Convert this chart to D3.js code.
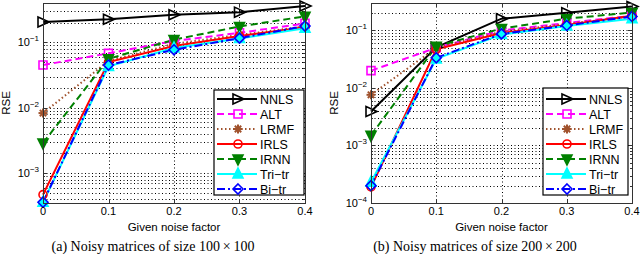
<!DOCTYPE html>
<html>
<head>
<meta charset="utf-8">
<script src="https://cdn.jsdelivr.net/npm/d3@7"></script>
<style>
  body { margin: 0; background: #fff; }
  svg { display: block; }
  .tick-label { font-family: "Liberation Sans", Arial, sans-serif; font-size: 11px; fill: #000; }
  .axis-title { font-family: "Liberation Sans", Arial, sans-serif; font-size: 11.5px; fill: #000; }
  .caption { font-family: "Liberation Serif", "DejaVu Serif", serif; font-size: 14px; fill: #000; }
  .legend-text { font-family: "Liberation Sans", Arial, sans-serif; font-size: 12.5px; fill: #000; }
</style>
</head>
<body>
<svg id="chart" width="640" height="254"></svg>
<script>
// data
let noise = [0, 0.1, 0.2, 0.3, 0.4];
let xTicks = [0, 0.1, 0.2, 0.3, 0.4];
let methods = ["NNLS", "ALT", "LRMF", "IRLS", "IRNN", "Tri\u2212tr", "Bi\u2212tr"];

// (a) 100x100
let nnlsA = [0.205, 0.225, 0.265, 0.29, 0.36];
let altA  = [0.045, 0.068, 0.105, 0.14, 0.195];
let lrmfA = [0.0083, 0.052, 0.095, 0.13, 0.175];
let irlsA = [0.00047, 0.05, 0.088, 0.125, 0.17];
let irnnA = [0.0029, 0.056, 0.11, 0.175, 0.25];
let triA  = [0.00036, 0.043, 0.082, 0.115, 0.165];
let biA   = [0.00036, 0.045, 0.077, 0.116, 0.178];
let yTicksA = [1e-3, 1e-2, 1e-1];

// (b) 200x200
let nnlsB = [0.0039, 0.051, 0.16, 0.203, 0.26];
let altB  = [0.02, 0.05, 0.1, 0.135, 0.18];
let lrmfB = [0.0076, 0.05, 0.095, 0.13, 0.175];
let irlsB = [0.00019, 0.047, 0.09, 0.125, 0.18];
let irnnB = [0.0015, 0.053, 0.108, 0.16, 0.205];
let triB  = [0.00023, 0.032, 0.085, 0.12, 0.16];
let biB   = [0.0002, 0.0335, 0.087, 0.122, 0.175];
let yTicksB = [1e-4, 1e-3, 1e-2, 1e-1];

let styles = [
  {color: "#000000", dash: null,    marker: "right"},
  {color: "#ff00ff", dash: "7,4",   marker: "square"},
  {color: "#a0522d", dash: "1.5,2.5", marker: "star"},
  {color: "#ff0000", dash: null,    marker: "circle"},
  {color: "#008000", dash: "7,4",   marker: "down"},
  {color: "#00ffff", dash: null,    marker: "up"},
  {color: "#0000ff", dash: "8,3,2,3", marker: "diamond"}
];

let svg = d3.select("#chart");

function drawMarker(g, type, x, y, color) {
  let s = 5;
  let pts;
  if (type == "right") pts = [[-s, -s], [s + 1, 0], [-s, s]];
  if (type == "up") pts = [[0, -s - 1], [s, s - 1], [-s, s - 1]];
  if (type == "down") pts = [[0, s + 1], [s, -s + 1], [-s, -s + 1]];
  if (type == "diamond") pts = [[0, -s], [s, 0], [0, s], [-s, 0]];
  if (type == "square") pts = [[-4, -4], [4, -4], [4, 4], [-4, 4]];
  if (pts) {
    g.append("polygon")
      .attr("points", pts.map(p => [x + p[0], y + p[1]].join(",")).join(" "))
      .attr("fill", (type == "up" || type == "down") ? color : "none")
      .attr("stroke", color)
      .attr("stroke-width", 1.6);
  } else if (type == "circle") {
    g.append("circle").attr("cx", x).attr("cy", y).attr("r", 4)
      .attr("fill", "none").attr("stroke", color).attr("stroke-width", 1.6);
  } else if (type == "star") {
    for (let a = 0; a < 4; a++) {
      let ang = a * Math.PI / 4;
      g.append("line")
        .attr("x1", x - 4.5 * Math.cos(ang)).attr("y1", y - 4.5 * Math.sin(ang))
        .attr("x2", x + 4.5 * Math.cos(ang)).attr("y2", y + 4.5 * Math.sin(ang))
        .attr("stroke", color).attr("stroke-width", 2);
    }
  }
}

function drawPanel(opt) {
  let x = d3.scaleLinear().domain([0, 0.4]).range([opt.left, opt.right]);
  let y = d3.scaleLog().domain(opt.yDomain).range([opt.bottom, opt.top]);
  let g = svg.append("g");
  let crisp = v => Math.round(v) + 0.5;

  // dotted grid, minor ticks included
  let lo = Math.floor(Math.log10(opt.yDomain[0]));
  let hi = Math.ceil(Math.log10(opt.yDomain[1]));
  let gridY = [];
  for (let e = lo; e < hi; e++) {
    for (let m = 1; m < 10; m++) {
      let v = m * Math.pow(10, e);
      if (v > opt.yDomain[0] * 1.001 && v < opt.yDomain[1] * 0.999) gridY.push(v);
    }
  }
  g.selectAll(".gy").data(gridY).enter().append("line")
    .attr("x1", opt.left).attr("x2", opt.right)
    .attr("y1", d => crisp(y(d))).attr("y2", d => crisp(y(d)))
    .attr("stroke", "#000").attr("stroke-width", 1)
    .attr("stroke-dasharray", "1,2.5");
  g.selectAll(".gx").data(xTicks.slice(1, -1)).enter().append("line")
    .attr("x1", d => crisp(x(d))).attr("x2", d => crisp(x(d)))
    .attr("y1", opt.top).attr("y2", opt.bottom)
    .attr("stroke", "#000").attr("stroke-width", 1)
    .attr("stroke-dasharray", "1,2.5");

  // minor/major ticks on y (inside)
  g.selectAll(".ty").data(gridY).enter().append("path")
    .attr("d", d => {
      let len = opt.yTicks.some(t => Math.abs(t - d) / d < 0.001) ? 4 : 2;
      return "M" + opt.left + "," + crisp(y(d)) + "h" + len + "M" + opt.right + "," + crisp(y(d)) + "h" + (-len);
    })
    .attr("stroke", "#333").attr("stroke-width", 1);
  g.selectAll(".tx").data(xTicks).enter().append("path")
    .attr("d", d => "M" + crisp(x(d)) + "," + opt.bottom + "v-4M" + crisp(x(d)) + "," + opt.top + "v4")
    .attr("stroke", "#333").attr("stroke-width", 1);

  // lines
  opt.series.forEach((vals, i) => {
    let st = styles[i];
    let line = d3.line().x((d, j) => x(noise[j])).y(d => y(d));
    g.append("path")
      .attr("d", line(vals))
      .attr("fill", "none")
      .attr("stroke", st.color)
      .attr("stroke-width", 2)
      .attr("stroke-dasharray", st.dash);
  });
  opt.series.forEach((vals, i) => {
    vals.forEach((v, j) => drawMarker(g, styles[i].marker, x(noise[j]), y(v), styles[i].color));
  });

  // box
  g.append("rect")
    .attr("x", opt.left + 0.5).attr("y", opt.top + 0.5)
    .attr("width", opt.right - opt.left).attr("height", opt.bottom - opt.top)
    .attr("fill", "none").attr("stroke", "#333").attr("stroke-width", 1);

  // tick labels
  g.selectAll(".xl").data(xTicks).enter().append("text")
    .attr("class", "tick-label")
    .attr("x", d => x(d)).attr("y", opt.bottom + 12)
    .attr("text-anchor", "middle")
    .text(d => d == 0 ? "0" : d3.format(".1f")(d));
  opt.yTicks.forEach(t => {
    let txt = g.append("text")
      .attr("class", "tick-label")
      .attr("x", opt.left - 4).attr("y", y(t) + 4)
      .attr("text-anchor", "end");
    txt.append("tspan").text("10");
    txt.append("tspan").attr("dy", -5).attr("font-size", "8px").text("\u2212" + Math.round(-Math.log10(t)));
  });

  g.append("text")
    .attr("class", "axis-title")
    .attr("transform", "translate(" + (opt.left - 33) + "," + ((opt.top + opt.bottom) / 2) + ") rotate(-90)")
    .attr("text-anchor", "middle")
    .text("RSE");
  g.append("text")
    .attr("class", "axis-title")
    .attr("x", (opt.left + opt.right) / 2).attr("y", opt.bottom + 28)
    .attr("text-anchor", "middle")
    .text("Given noise factor");
  g.append("text")
    .attr("class", "caption")
    .attr("x", opt.capX).attr("y", 251)
    .attr("text-anchor", "middle")
    .text(opt.caption);

  // legend
  let lg = g.append("g");
  lg.append("rect")
    .attr("x", opt.legX).attr("y", opt.legY)
    .attr("width", opt.legW).attr("height", 195 - opt.legY)
    .attr("fill", "#fff").attr("stroke", "#000").attr("stroke-width", 1.2);
  methods.forEach((m, i) => {
    let ly = 99 + i * 15;
    let st = styles[i];
    lg.append("line")
      .attr("x1", opt.legX + 3).attr("x2", opt.legX + 43)
      .attr("y1", ly).attr("y2", ly)
      .attr("stroke", st.color).attr("stroke-width", 2)
      .attr("stroke-dasharray", st.dash);
    drawMarker(lg, st.marker, opt.legX + 24, ly, st.color);
    lg.append("text")
      .attr("class", "legend-text")
      .attr("x", opt.legX + 46).attr("y", ly + 4.5)
      .text(m);
  });
}

drawPanel({
  left: 43, right: 305, top: 3, bottom: 203,
  yDomain: [3.5e-4, 0.4], yTicks: yTicksA,
  series: [nnlsA, altA, lrmfA, irlsA, irnnA, triA, biA],
  legX: 214, legY: 90, legW: 90,
  capX: 153, caption: "(a) Noisy matrices of size 100\u2009\u00d7\u2009100"
});
drawPanel({
  left: 371, right: 632, top: 3, bottom: 203,
  yDomain: [1e-4, 0.3], yTicks: yTicksB,
  series: [nnlsB, altB, lrmfB, irlsB, irnnB, triB, biB],
  legX: 543, legY: 88, legW: 85,
  capX: 475, caption: "(b) Noisy matrices of size 200\u2009\u00d7\u2009200"
});
</script>
</body>
</html>
